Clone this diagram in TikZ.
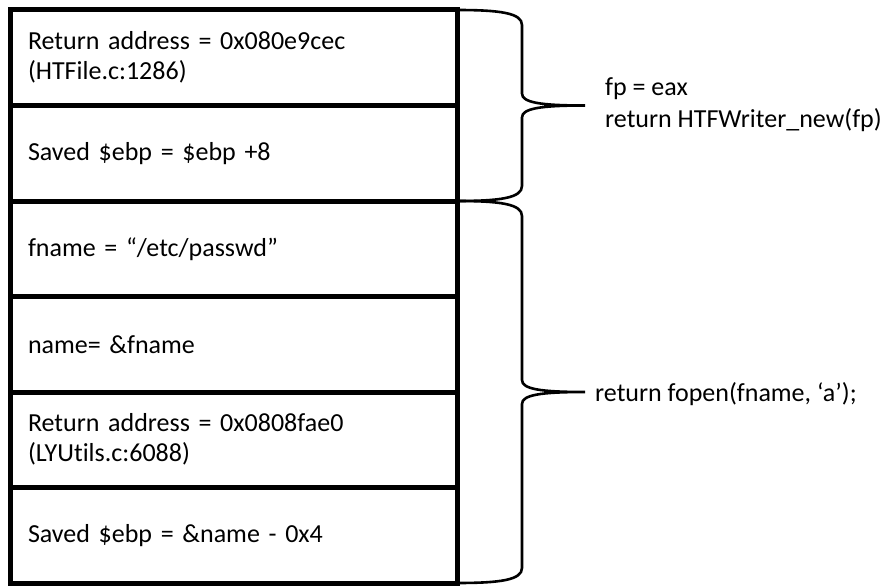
\documentclass[tikz,border=0pt]{standalone}
\usepackage{fontspec}
\setmainfont{Carlito}[Ligatures={NoCommon}]
\usetikzlibrary{calc}
\begin{document}
\begin{tikzpicture}[x=1pt,y=-1pt,
  every node/.style={font=\fontsize{26}{30}\selectfont},
  slot/.style={draw, line width=5pt, outer sep=0pt, minimum width=447pt, minimum height=95.5pt,
    text width=411pt, inner xsep=18pt, inner ysep=0pt, align=left, anchor=north west},
  bracestyle/.style={draw, line width=2.6pt},
  note/.style={anchor=west, align=left, inner sep=0pt}]
% canvas
\path[fill=white] (0,0) rectangle (895,586);
\useasboundingbox (0,0) rectangle (895,586);

% stack frames
\node[slot] (r1) at (10,10)    {Return address = 0x080e9cec\\(HTFile.c:1286)};
\node[slot] (r2) at (10,105.5) {Saved \$ebp = \$ebp +8};
\node[slot] (r3) at (10,201)   {fname = “/etc/passwd”};
\node[slot] (r4) at (10,296.5) {name= \&fname};
\node[slot] (r5) at (10,392)   {Return address = 0x0808fae0\\(LYUtils.c:6088)};
\node[slot] (r6) at (10,487.5) {Saved \$ebp = \&name - 0x4};

% brace over the upper frame
\coordinate (m1) at ($(r1.north east)!0.5!(r2.south east)$);
\draw[bracestyle] (r1.north east)
  .. controls +(43,0) and +(0,-12) .. ($(r1.north east)+(65,15)$)
  -- ($(m1)+(65,-12)$)
  .. controls +(0,9) and +(-45,0) .. ($(m1)+(128,0)$) coordinate (t1)
  .. controls +(-45,0) and +(0,-9) .. ($(m1)+(65,12)$)
  -- ($(r2.south east)+(65,-15)$)
  .. controls +(0,12) and +(43,0) .. (r2.south east);

% brace over the lower frame
\coordinate (m2) at ($(r3.north east)!0.5!(r6.south east)$);
\draw[bracestyle] (r3.north east)
  .. controls +(43,0) and +(0,-12) .. ($(r3.north east)+(65,15)$)
  -- ($(m2)+(65,-12)$)
  .. controls +(0,9) and +(-45,0) .. ($(m2)+(128,0)$) coordinate (t2)
  .. controls +(-45,0) and +(0,-9) .. ($(m2)+(65,12)$)
  -- ($(r6.south east)+(65,-15)$)
  .. controls +(0,12) and +(43,0) .. (r6.south east);

% annotations
\node[note, font=\fontsize{26}{32}\selectfont] (n1) at ($(t1)+(20,-1)$) {fp = eax\\return HTFWriter\_new(fp)};
\node[note] (n2) at ($(t2)+(10,2)$) {return fopen(fname, ‘a’);};
\end{tikzpicture}
\end{document}
